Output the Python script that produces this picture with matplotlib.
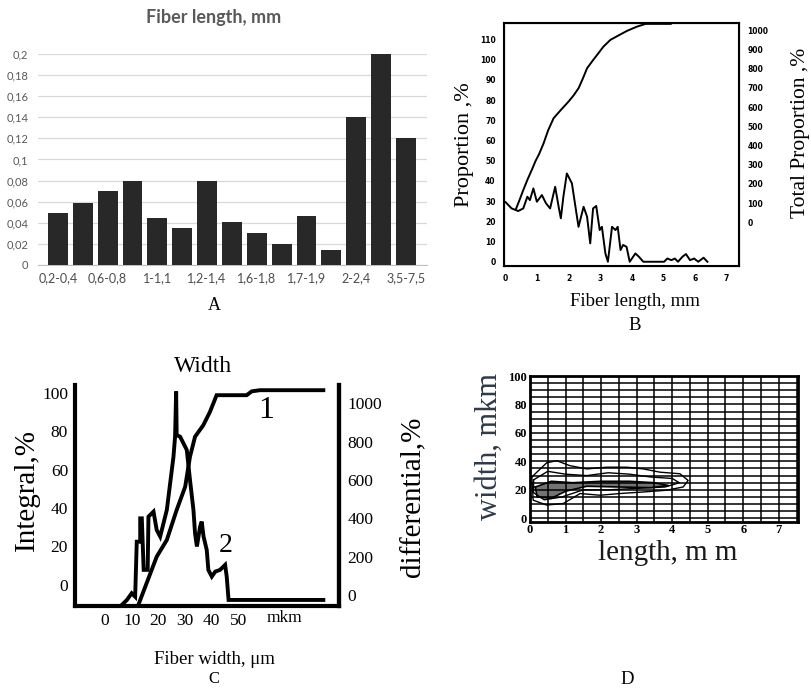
import numpy as np
import matplotlib
matplotlib.use("Agg")
import matplotlib.pyplot as plt

# ---- panel A: fiber length histogram
len_classes = ["0,2-0,4", "0,4-0,6", "0,6-0,8", "0,8-1", "1-1,1", "1,1-1,2", "1,2-1,4",
               "1,4-1,6", "1,6-1,8", "1,6-1,7", "1,7-1,9", "1,9-2", "2-2,4", "2,4-3,5", "3,5-7,5"]
len_share = [0.049, 0.059, 0.070, 0.080, 0.045, 0.035, 0.080, 0.041, 0.030, 0.020, 0.046, 0.014, 0.140, 0.200, 0.120]
a_yticks = [0, 0.02, 0.04, 0.06, 0.08, 0.1, 0.12, 0.14, 0.16, 0.18, 0.2]

# ---- panel B: proportion and total proportion vs fiber length
b_len = [0.0, 0.19, 0.40, 0.56, 0.69, 0.77, 0.88, 0.99, 1.15, 1.28, 1.41, 1.57, 1.68, 1.75, 1.83, 1.94,
         2.10, 2.26, 2.31, 2.47, 2.58, 2.68, 2.77, 2.87, 2.98, 3.05, 3.16, 3.24, 3.37, 3.48, 3.55, 3.64,
         3.72, 3.83, 3.93, 4.11, 4.22, 4.36, 5.02, 5.12, 5.25, 5.36, 5.46, 5.60, 5.71, 5.84, 5.97, 6.10,
         6.27, 6.39]
b_prop = [29.5, 26.4, 25.1, 26.4, 32.2, 30.5, 36.3, 29.7, 33.0, 28.9, 26.4, 37.1, 27.2, 21.5, 32.2, 43.7,
          38.8, 22.3, 17.3, 27.2, 22.3, 9.1, 26.4, 27.6, 15.7, 17.3, 4.1, 0.0, 17.3, 15.7, 17.3, 5.8,
          8.3, 7.4, 0.0, 4.1, 2.5, 0.0, 0.0, 1.6, 0.8, 1.6, 0.0, 2.5, 3.8, 0.8, 1.6, 0.0,
          2.0, 0.0]
b_cum_len = [0.33, 0.45, 0.56, 0.70, 0.83, 0.95, 1.06, 1.20, 1.35, 1.52, 1.75, 1.99, 2.15, 2.31, 2.45,
             2.58, 2.75, 2.90, 3.10, 3.32, 3.60, 3.85, 4.15, 4.43, 5.23]
b_cum = [70, 120, 168, 225, 273, 320, 355, 410, 480, 542, 585, 628, 660, 698, 750,
         802, 840, 872, 915, 950, 975, 997, 1018, 1033, 1033]

# ---- panel C: width distribution (1 integral, 2 differential)
c_w1 = [12.5, 15.6, 19.4, 23.2, 26.9, 30.1, 31.9, 33.8, 36.9, 39.4, 41.9, 53.2, 55.1, 58.2, 82.0]
c_int = [-10.4, 0.9, 14.7, 23.4, 39.0, 51.1, 66.7, 77.1, 83.1, 90.0, 98.7, 98.7, 100.7, 101.3, 101.3]
c_w2 = [6.3, 8.2, 10.0, 11.3, 11.9, 13.2, 13.2, 13.8, 14.5, 16.0, 16.3, 18.2, 19.4, 20.7, 23.2, 25.7,
        26.3, 26.7, 26.9, 28.2, 30.7, 31.9, 33.2, 33.8, 34.5, 35.7, 36.3, 37.0, 38.2, 38.8, 40.1,
        41.4, 43.2, 45.1, 45.7, 46.4, 82.0]
c_diff = [-52, -26, 9, -9, 278, 278, 400, 400, 131, 131, 409, 435, 339, 305, 444, 722,
          827, 1062, 835, 826, 757, 601, 444, 322, 253, 357, 383, 305, 235, 131, 96,
          122, 131, 157, 96, -26, -26]

# ---- panel D: width vs length cloud (contour outlines)
d_outer_x = [0.05, 0.47, 0.75, 1.12, 1.6, 2.16, 2.72, 3.19, 3.66, 4.22, 4.45, 4.31, 3.84, 3.19, 2.53,
             1.97, 1.41, 0.94, 0.47, 0.09, 0.05]
d_outer_y = [29, 39, 40.5, 37, 34.7, 35.9, 35.9, 34.7, 32.4, 31.3, 26.6, 22, 19.7, 18.5, 17.4,
             16.2, 17.4, 10.4, 9.3, 12.7, 29]
d_mid_x = [0.1, 0.5, 1.0, 1.6, 2.2, 2.8, 3.4, 4.0, 4.2, 3.8, 3.0, 2.2, 1.5, 0.9, 0.4, 0.1, 0.1]
d_mid_y = [27, 33, 31, 30, 32, 31, 29, 28, 25, 22, 21, 20, 20, 15, 13, 18, 27]
d_in_x = [0.15, 0.6, 1.2, 2.0, 2.8, 3.5, 3.9, 3.4, 2.5, 1.6, 1.0, 0.6, 0.2, 0.15]
d_in_y = [22, 26, 25, 26, 26, 25, 23, 21.5, 22, 22.5, 19, 14, 15, 22]

serif = "Liberation Serif"

fig = plt.figure(figsize=(8.11, 6.90), dpi=100)
W, H = 811.0, 690.0


def ftext(x, y, s, **kw):
    fig.text(x / W, 1 - y / H, s, **kw)


# ================= A
axA = fig.add_axes([38 / W, 1 - 265 / H, 389 / W, 211 / H])
xa = np.arange(len(len_classes))
axA.bar(xa, len_share, width=0.8, color="#282828", zorder=3)
axA.set_xlim(-0.8, 14.85)
axA.set_ylim(0, 0.2)
axA.set_yticks(a_yticks)
axA.set_yticklabels([("%g" % v).replace(".", ",") for v in a_yticks])
axA.set_xticks(xa[::2])
axA.set_xticklabels(len_classes[::2])
axA.grid(axis="y", color="#d9d9d9", lw=0.9, zorder=0)
for s in ["top", "left", "right"]:
    axA.spines[s].set_visible(False)
axA.spines["bottom"].set_color("#bfbfbf")
axA.tick_params(axis="x", length=0, labelsize=9, colors="#4d4d4d", pad=5)
axA.tick_params(axis="y", length=0, labelsize=8, colors="#595959", pad=7)
for t in axA.get_xticklabels() + axA.get_yticklabels():
    t.set_family("Lato")
ftext(214, 18, "Fiber length, mm", ha="center", va="center", fontsize=13,
      fontweight="bold", color="#595959", family="Lato")
ftext(214, 305, "A", ha="center", va="center", fontsize=13, family=serif)

# ================= B
axB = fig.add_axes([504 / W, 1 - 266 / H, 235.3 / W, 242.7 / H])
axB.plot(b_len, b_prop, color="black", lw=1.4)
axB.set_xlim(-0.05, 7.4)
axB.set_ylim(-2.1, 118)
axB.set_xticks(range(8))
axB.set_yticks(range(0, 111, 10))
axB.tick_params(length=0, labelsize=5.5, pad=6)
for t in axB.get_xticklabels() + axB.get_yticklabels():
    t.set_fontweight("bold")
for s in axB.spines.values():
    s.set_linewidth(1.5)
axB2 = axB.twinx()
axB2.plot(b_cum_len, b_cum, color="black", lw=1.4)
axB2.set_ylim(-227, 1036)
axB2.set_yticks(range(0, 1001, 100))
axB2.tick_params(length=0, labelsize=5.5, pad=6)
for t in axB2.get_yticklabels():
    t.set_fontweight("bold")
ftext(465, 145, "Proportion ,%", rotation=90, ha="center", va="center", fontsize=16, family=serif)
ftext(800, 133, "Total Proportion ,%", rotation=90, ha="center", va="center", fontsize=15.5, family=serif)
ftext(635, 301, "Fiber length, mm", ha="center", va="center", fontsize=13.5, family=serif)
ftext(635, 325, "B", ha="center", va="center", fontsize=13.5, family=serif)

# ================= C
axC = fig.add_axes([75 / W, 1 - 605.7 / H, 264.3 / W, 220.7 / H])
axC.plot(c_w1, c_int, color="black", lw=2.8, solid_joinstyle="miter")
axC.set_xlim(-11.3, 88)
axC.set_ylim(-10.8, 104)
axC.set_xticks([0, 10, 20, 30, 40, 50])
axC.set_yticks([0, 20, 40, 60, 80, 100])
axC.spines["top"].set_visible(False)
for s in ["left", "right", "bottom"]:
    axC.spines[s].set_linewidth(3)
axC.tick_params(length=0, labelsize=12.5, pad=5)
for t in axC.get_xticklabels() + axC.get_yticklabels():
    t.set_family(serif)
axC2 = axC.twinx()
axC2.plot(c_w2, c_diff, color="black", lw=2.8, solid_joinstyle="miter")
axC2.set_ylim(-56, 1096)
axC2.set_yticks([0, 200, 400, 600, 800, 1000])
axC2.spines["top"].set_visible(False)
axC2.spines["right"].set_linewidth(3)
axC2.tick_params(length=0, labelsize=12.5, pad=6)
for t in axC2.get_yticklabels():
    t.set_family(serif)
ftext(284, 618, "mkm", ha="center", va="center", fontsize=12.5, family=serif)
ftext(266, 411, "1", ha="center", va="center", fontsize=23, family=serif)
ftext(226, 546, "2", ha="center", va="center", fontsize=20, family=serif)
ftext(203, 367, "Width", ha="center", va="center", fontsize=17, family=serif)
ftext(27, 490, "Integral,%", rotation=90, ha="center", va="center", fontsize=21, family=serif)
ftext(413, 497, "differential,%", rotation=90, ha="center", va="center", fontsize=21, family=serif)
ftext(214, 660, "Fiber width, \u03bcm", ha="center", va="center", fontsize=13.5, family=serif)
ftext(214, 679, "C", ha="center", va="center", fontsize=12, family=serif)

# ================= D
axD = fig.add_axes([530 / W, 1 - 521.7 / H, 268.3 / W, 145.7 / H])
axD.fill(d_in_x, d_in_y, color="black", alpha=0.55, lw=0, zorder=3)
axD.plot(d_outer_x, d_outer_y, color="black", lw=1.0, zorder=4)
axD.plot(d_mid_x, d_mid_y, color="black", lw=1.0, zorder=4)
axD.plot(d_in_x, d_in_y, color="black", lw=1.2, zorder=4)
axD.set_xlim(0, 7.55)
axD.set_ylim(-2.4, 100)
axD.set_xticks(range(8))
axD.set_yticks([0, 20, 40, 60, 80, 100])
axD.set_xticks(np.arange(0, 7.6, 0.5), minor=True)
axD.set_yticks(np.arange(0, 101, 5), minor=True)
axD.grid(which="both", color="black", lw=1.3, alpha=0.85)
axD.tick_params(which="both", length=0, labelsize=9, pad=2)
for t in axD.get_xticklabels() + axD.get_yticklabels():
    t.set_family(serif)
    t.set_fontweight("bold")
for s in axD.spines.values():
    s.set_linewidth(2)
ftext(489, 447, "width, mkm", rotation=90, ha="center", va="center", fontsize=22,
      family=serif, color="#2e3a48")
ftext(668, 553, "length, m m", ha="center", va="center", fontsize=21, family=serif,
      color="#1a1a1a")
ftext(627, 679, "D", ha="center", va="center", fontsize=13.5, family=serif)

fig.savefig("out.png", dpi=100)
